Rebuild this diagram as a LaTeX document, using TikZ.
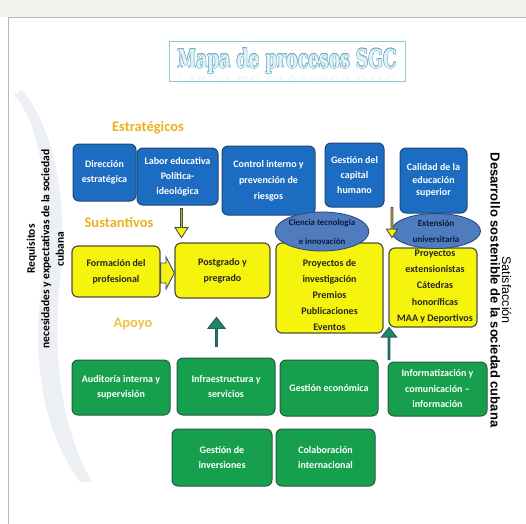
\documentclass[tikz,border=0pt]{standalone}
\usepackage{fontspec}
\usepackage{graphicx}
\setmainfont{Carlito}
\newfontfamily\arialfont{Liberation Sans}
\newfontfamily\titlefont{DejaVu Serif}
\usetikzlibrary{shapes.geometric,shapes.arrows}

\definecolor{procblue}{RGB}{28,108,194}
\definecolor{procblueline}{RGB}{30,70,120}
\definecolor{ellfill}{RGB}{78,124,190}
\definecolor{ellline}{RGB}{45,75,125}
\definecolor{elltext}{RGB}{14,24,60}
\definecolor{procyellow}{RGB}{246,244,12}
\definecolor{yellowline}{RGB}{80,80,60}
\definecolor{procgreen}{RGB}{22,160,78}
\definecolor{greenline}{RGB}{40,90,70}
\definecolor{arrowgreen}{RGB}{30,138,96}
\definecolor{arrowgreenline}{RGB}{40,90,100}
\definecolor{gold}{RGB}{236,178,30}
\definecolor{framecol}{RGB}{170,188,204}
\definecolor{topband}{RGB}{244,242,237}
\definecolor{titlefill}{RGB}{222,242,248}
\definecolor{titleline}{RGB}{110,172,194}
\definecolor{titlebox}{RGB}{140,200,216}
\definecolor{swoosh}{RGB}{236,239,243}
\definecolor{chevronline}{RGB}{60,75,110}

\newcommand\maptitle{\titlefont\bfseries\fontsize{26}{26}\selectfont\scalebox{0.66}[1]{Mapa de procesos SGC}}

\tikzset{
  procbox/.style={rounded corners=6pt, line width=1pt, align=center, inner sep=0pt,
    font=\bfseries\fontsize{10}{15.5}\selectfont},
  bluebox/.style={procbox, fill=procblue, draw=procblueline, text=white},
  yellowbox/.style={procbox, fill=procyellow, draw=yellowline, line width=1.2pt,
    text=black!85, font=\bfseries\fontsize{10}{16}\selectfont},
  greenbox/.style={procbox, fill=procgreen, draw=greenline, text=white},
  topic/.style={ellipse, fill=ellfill, draw=ellline, line width=0.9pt, text=elltext,
    align=center, inner sep=0pt},
  grouplabel/.style={text=gold, font=\bfseries\fontsize{14.5}{15}\selectfont, inner sep=0pt},
  sidetext/.style={align=center, inner sep=0pt, text=black},
  yarrowdown/.style={single arrow, shape border rotate=270, fill=procyellow, draw=black!70,
    line width=0.9pt, inner sep=0pt, single arrow tip angle=66},
  garrowup/.style={single arrow, shape border rotate=90, fill=arrowgreen, draw=arrowgreenline,
    line width=1pt, inner sep=0pt, single arrow tip angle=76},
  chevron/.style={fill=procyellow, draw=chevronline, line width=0.9pt, line join=miter},
}

\begin{document}
\begin{tikzpicture}[x=1pt,y=-1pt]
  \useasboundingbox (0,0) rectangle (526,523);
  % page background and frame
  \fill[white] (0,0) rectangle (526,523);
  \fill[topband] (0,0) rectangle (526,17);
  \fill[swoosh]
    (14,95) .. controls (42,125) and (52,200) .. (40,300)
    .. controls (32,380) and (50,440) .. (80,482)
    -- (92,482) .. controls (62,430) and (52,360) .. (60,280)
    .. controls (68,200) and (55,130) .. (22,90) -- cycle;
  \draw[framecol, line width=1pt] (8,17) -- (530,17);
  \draw[framecol, line width=1pt] (8,17) -- (8,530);

  % title
  \node[draw=titlebox, line width=0.6pt, minimum width=236, minimum height=40, inner sep=0pt]
    (titlebox) at (287,61) {};
  \begin{scope}
    \clip (169,41) rectangle (405,81);
    \node[text=titleline, opacity=0.08, yscale=-1, transform shape] (titleecho) at (287,84) {\maptitle};
  \end{scope}
  \foreach \dx/\dy in {0.45/0,-0.45/0,0/0.45,0/-0.45,0.35/0.35,-0.35/0.35,0.35/-0.35,-0.35/-0.35}
    \node[text=titleline] at (287+\dx,61+\dy) {\maptitle};
  \node[text=titlefill] (title) at (287,61) {\maptitle};

  % group labels
  \node[grouplabel] (lstrat) at (148,128) {Estratégicos};
  \node[grouplabel] (lsust) at (119,222) {Sustantivos};
  \node[grouplabel, text=gold!80] (lapoyo) at (133,324) {Apoyo};

  % strategic processes
  \node[bluebox, minimum width=63, minimum height=57] (b1) at (104.5,172.5) {Dirección\\estratégica};
  \node[bluebox, minimum width=81, minimum height=57, font=\bfseries\fontsize{10}{15}\selectfont] (b2) at (177.5,176.5) {Labor educativa\\Política-\\ideológica};
  \node[bluebox, minimum width=93, minimum height=69, font=\bfseries\fontsize{10}{16}\selectfont] (b3) at (268.5,180.5) {Control interno y\\prevención de\\riesgos};
  \node[bluebox, minimum width=59, minimum height=64, font=\bfseries\fontsize{10}{15}\selectfont] (b4) at (354.5,175) {Gestión del\\capital\\humano};
  \node[bluebox, minimum width=67, minimum height=65, font=\bfseries\fontsize{10}{12.5}\selectfont] (b5) at (433.5,180.5) {Calidad de la\\educación\\superior};

  % core processes
  \node[yellowbox, minimum width=88, minimum height=51] (y1) at (116,271.5) {Formación del\\profesional};
  \node[yellowbox, minimum width=95, minimum height=55] (y2) at (222.5,270.5) {Postgrado y\\pregrado};
  \node[yellowbox, minimum width=107, minimum height=90] (y3) at (329.5,288) {};
  \node[yellowbox, minimum width=88, minimum height=79] (y4) at (433,287.5) {};
  \node[font=\bfseries\fontsize{10}{16}\selectfont, text=black!85, align=center] (y3text) at (y3.center) [yshift=-7] {Proyectos de\\investigación\\Premios\\Publicaciones\\Eventos};
  \node[font=\bfseries\fontsize{10}{16.2}\selectfont, text=black!85, align=center] (y4text) at (435,286.5) {Proyectos\\extensionistas\\Cátedras\\honoríficas\\MAA y Deportivos};
  \node[topic, minimum width=89, minimum height=39, font=\bfseries\fontsize{8.8}{19}\selectfont] (e1) at (322,231.5) {Ciencia tecnología\\e innovación};
  \node[topic, minimum width=89, minimum height=35, font=\bfseries\fontsize{9}{16}\selectfont] (e2) at (436,231) {Extensión\\universitaria};

  % support processes
  \node[greenbox, minimum width=98, minimum height=55] (g1) at (121,387.5) {Auditoría interna y\\supervisión};
  \node[greenbox, minimum width=98, minimum height=57] (g2) at (226,386.5) {Infraestructura y\\servicios};
  \node[greenbox, minimum width=98, minimum height=56] (g3) at (329,388) {Gestión económica};
  \node[greenbox, minimum width=99, minimum height=54] (g4) at (437.5,389) {Informatización y\\comunicación –\\información};
  \node[greenbox, minimum width=100, minimum height=57] (g5) at (222,457.5) {Gestión de\\inversiones};
  \node[greenbox, minimum width=99, minimum height=57] (g6) at (325.5,457.5) {Colaboración\\internacional};

  % block arrows between the process groups
  \node[yarrowdown, minimum height=29, minimum width=13, single arrow head extend=3] (a1) at (181.5,222.5) {};
  \node[yarrowdown, minimum height=30, minimum width=11, single arrow head extend=2.5] (a2) at (392,222) {};
  \node[garrowup, minimum height=29, minimum width=17, single arrow head extend=4.5] (a4) at (216.5,332.5) {};
  \node[garrowup, minimum height=32, minimum width=15, single arrow head extend=3.5] (a5) at (389,344) {};
  % short fat arrow from the first core process into the second
  \draw[chevron] (y1.east |- 0,263) -- (166,263) -- (166,257) -- (y2.west |- 0,273)
    -- (166,289) -- (166,283) -- (y1.east |- 0,283) -- cycle;

  % side captions
  \node[sidetext, rotate=90, font=\bfseries\fontsize{11.5}{14.5}\selectfont] (req) at (45.5,249)
    {Requisitos\\necesidades y expectativas de la sociedad\\cubana};
  \node[sidetext, rotate=-90] (sat) at (501,290)
    {{\arialfont\fontsize{12.5}{13}\selectfont Satisfacción}\\[-0.5pt]{\arialfont\bfseries\fontsize{13}{13}\selectfont Desarrollo sostenible de la sociedad cubana}};
\end{tikzpicture}
\end{document}
